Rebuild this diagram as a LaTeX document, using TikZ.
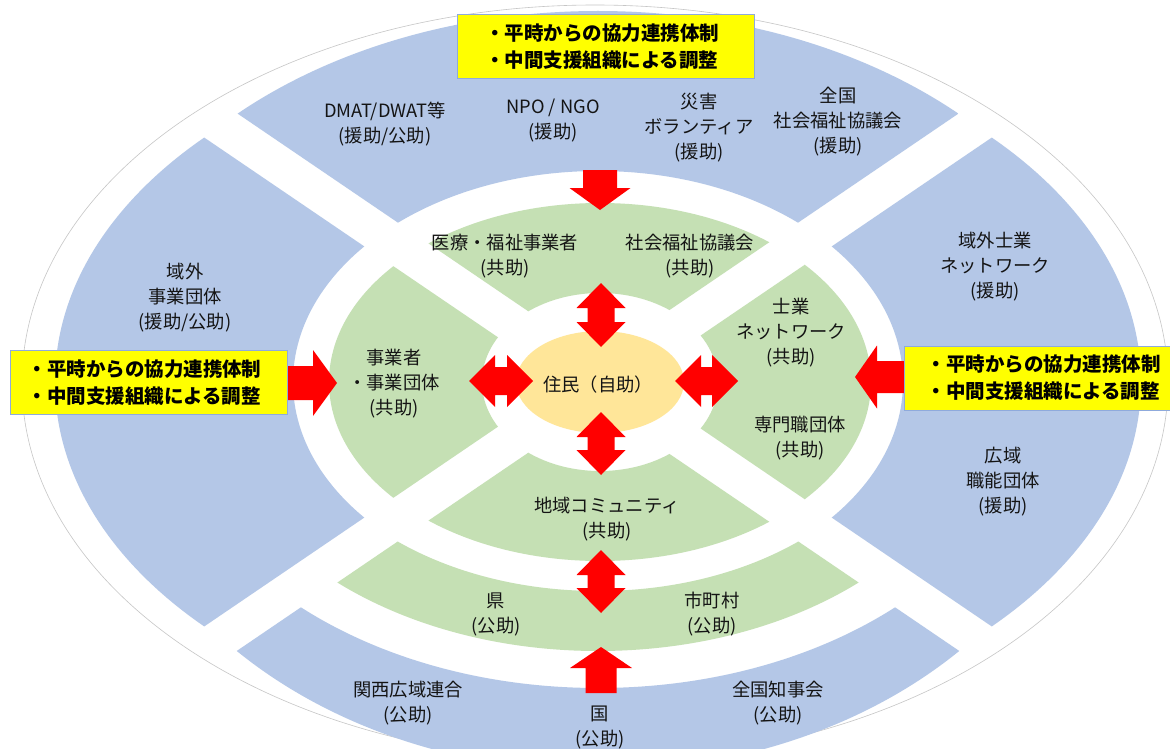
\documentclass[tikz,border=0pt]{standalone}
\usepackage{fontspec}
\setmainfont{Noto Sans CJK JP}
\definecolor{ringblue}{HTML}{B4C7E7}
\definecolor{ringgreen}{HTML}{C5E0B4}
\definecolor{coreorange}{HTML}{FFE699}
\definecolor{arrowred}{HTML}{FF0000}
\definecolor{boxyellow}{HTML}{FFFF00}
\definecolor{boxedge}{HTML}{8FAADC}
\tikzset{
  lbl/.style={align=center, font=\fontsize{18.3}{25}\selectfont, text=black!92, inner sep=0pt},
  ybox/.style={draw=boxedge, line width=1pt, fill=boxyellow, text=black,
    font=\bfseries\fontsize{19.5}{27}\selectfont, align=left, inner ysep=0pt, minimum height=64pt},
  redblock/.style={fill=arrowred},
}
% #1 colour, #2 wedge path, #3 centre x, #4 #5 outer radii, #6 #7 inner radii
\newcommand\ringpart[7]{%
  \begin{scope}
    \clip #2;
    \fill[#1, even odd rule] (#3,382) ellipse [x radius=#4pt, y radius=#5pt]
                             (#3,382) ellipse [x radius=#6pt, y radius=#7pt];
  \end{scope}}
% vertical double arrow: x, top tip y, bottom tip y
\newcommand\VDbl[3]{%
  \fill[redblock] (#1,#2) -- ++(24.5,25) -- ++(-11,0) -- (#1+13.5,#3-25) -- ++(11,0)
    -- (#1,#3) -- ++(-24.5,-25) -- ++(11,0) -- (#1-13.5,#2+25) -- ++(-11,0) -- cycle;}
% horizontal double arrow: y, left tip x, right tip x
\newcommand\HDbl[3]{%
  \fill[redblock] (#2,#1) -- ++(26,-26) -- ++(0,12) -- (#3-26,#1-14) -- ++(0,-12)
    -- (#3,#1) -- ++(-26,26) -- ++(0,-12) -- (#2+26,#1+14) -- ++(0,12) -- cycle;}
\begin{document}
\begin{tikzpicture}[x=1pt,y=-1pt]
\useasboundingbox (0,0) rectangle (1170,749);
\fill[white] (0,0) rectangle (1170,749);
% outer thin ellipse
\draw[gray!45, line width=0.6pt] (595,383) ellipse [x radius=573pt, y radius=378pt];

% blue sectors
\ringpart{ringblue}{(563.7,382) -- (-436.3,-298) -- (-436.3,1062) -- cycle}{598}{543}{355}{305}{211}
\ringpart{ringblue}{(632.3,382) -- (1632.3,-298) -- (1632.3,1062) -- cycle}{598}{543}{355}{305}{211}
\ringpart{ringblue}{(598,358.7) -- (-402,-321.3) -- (1598,-321.3) -- cycle}{598}{522}{371}{305}{211}
\ringpart{ringblue}{(598,405.3) -- (-402,1085.3) -- (1598,1085.3) -- cycle}{598}{500}{389}{439}{306}
% green sectors
\ringpart{ringgreen}{(563.7,382) -- (-436.3,-298) -- (-436.3,1062) -- cycle}{600}{271}{179}{118}{89}
\ringpart{ringgreen}{(632.3,382) -- (1632.3,-298) -- (1632.3,1062) -- cycle}{600}{271}{179}{118}{89}
\ringpart{ringgreen}{(598,358.7) -- (-402,-321.3) -- (1598,-321.3) -- cycle}{600}{271}{179}{118}{89}
\ringpart{ringgreen}{(598,405.3) -- (-402,1085.3) -- (1598,1085.3) -- cycle}{600}{271}{179}{118}{89}
% prefecture / municipality band
\ringpart{ringgreen}{(598,405.3) -- (-402,1085.3) -- (1598,1085.3) -- cycle}{598}{391}{269}{310}{209}

% core
\fill[coreorange] (600,382) ellipse [x radius=84pt, y radius=51pt];
\node[lbl] (core) at (598,385) {住民（自助）};

% arrows
\VDbl{601}{283}{347}
\VDbl{601}{412}{475}
\VDbl{601}{550}{613}
\HDbl{381}{469}{533}
\HDbl{381}{675}{738}
% top arrow (down)
\fill[redblock] (583,170) -- (617,170) -- (617,188) -- (630.5,188) -- (600,210) -- (569.5,188) -- (583,188) -- cycle;
% bottom arrow (up)
\fill[redblock] (585.5,693) -- (616.5,693) -- (616.5,668) -- (632,668) -- (601,647) -- (570,668) -- (585.5,668) -- cycle;
% left arrow (right)
\fill[redblock] (285,366) -- (313,366) -- (313,350) -- (337,383) -- (313,416) -- (313,400) -- (285,400) -- cycle;
% right arrow (left)
\fill[redblock] (906,361) -- (877,361) -- (877,345.5) -- (855,377) -- (877,408.5) -- (877,393) -- (906,393) -- cycle;

% yellow boxes
\node[ybox, text width=241pt, inner xsep=28pt] (boxT) at (605.5,47) {・平時からの協力連携体制\\・中間支援組織による調整};
\node[ybox, text width=242pt, inner xsep=17.5pt] (boxL) at (148.5,382.5) {・平時からの協力連携体制\\・中間支援組織による調整};
\node[ybox, anchor=west, text width=241pt, inner xsep=22pt] (boxR) at (904,378) {・平時からの協力連携体制\\・中間支援組織による調整};

% labels: outer ring
\node[lbl] (dmat) at (385,124) {DMAT/DWAT等\\(援助/公助)};
\node[lbl] (npo) at (553,121) {NPO / NGO\\(援助)};
\node[lbl] (vol) at (699,128) {災害\\ボランティア\\(援助)};
\node[lbl] (zshakyo) at (838,122) {全国\\社会福祉協議会\\(援助)};
\node[lbl] (ikigai) at (185,298) {域外\\事業団体\\(援助/公助)};
\node[lbl] (ikishigyo) at (995,267) {域外士業\\ネットワーク\\(援助)};
\node[lbl] (koiki) at (1003,482) {広域\\職能団体\\(援助)};
\node[lbl] (kansai) at (408,703) {関西広域連合\\(公助)};
\node[lbl] (kuni) at (600,728) {国\\(公助)};
\node[lbl] (chiji) at (778,703) {全国知事会\\(公助)};
% labels: inner ring
\node[lbl] (iryo) at (505,256) {医療・福祉事業者\\(共助)};
\node[lbl] (shakyo) at (690,256) {社会福祉協議会\\(共助)};
\node[lbl] (jigyo) at (394,384) {事業者\\・事業団体\\(共助)};
\node[lbl] (shigyo) at (791,333) {士業\\ネットワーク\\(共助)};
\node[lbl] (senmon) at (800,438) {専門職団体\\(共助)};
\node[lbl] (chiiki) at (607,519) {地域コミュニティ\\(共助)};
\node[lbl] (ken) at (496,614) {県\\(公助)};
\node[lbl] (shicho) at (712,614) {市町村\\(公助)};
\end{tikzpicture}
\end{document}
